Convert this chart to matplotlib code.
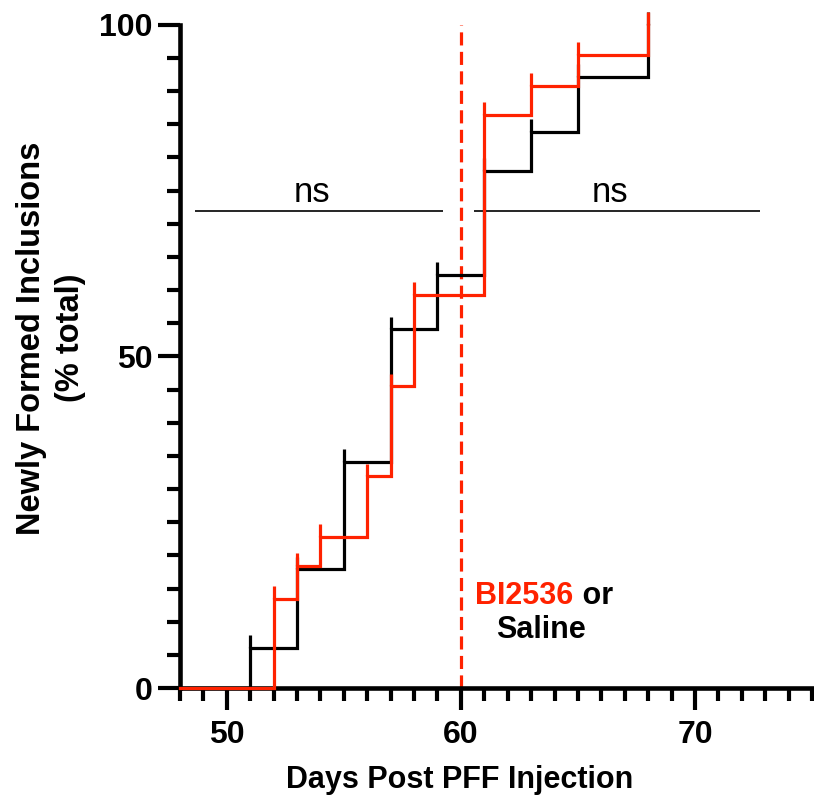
import matplotlib.pyplot as plt
from matplotlib.ticker import MultipleLocator

# ==============================================================================
# Dados (incidência cumulativa, % do total)
# ==============================================================================
dias_saline = [48, 51, 53, 55, 57, 59, 61, 63, 65, 68]
pct_saline = [0, 6.1, 17.9, 34.1, 54.1, 62.3, 78.0, 83.9, 92.2, 100]

dias_bi = [48, 52, 53, 54, 56, 57, 58, 61, 63, 65, 68]
pct_bi = [0, 13.5, 18.4, 22.8, 31.9, 45.5, 59.3, 86.4, 90.8, 95.5, 100]

dia_tratamento = 60

# barras de significância: (inicio, fim, altura, rótulo)
sig_inicio = [48.63, 60.56]
sig_fim = [59.23, 72.78]
sig_altura = 71.9
sig_rotulo = ['ns', 'ns']

VERMELHO = '#ff2200'
PRETO = '#000000'

plt.rcParams['font.family'] = ['Liberation Sans', 'DejaVu Sans']

fig = plt.figure(figsize=(8.14, 8.01), dpi=100)
ax = fig.add_axes([0.2211, 0.141, 0.7765, 0.828])

def desenhar_degraus(ax, dias, pct, cor, z):
    ax.step(dias, pct, where='post', color=cor, lw=2.3, zorder=z,
            clip_on=False, solid_joinstyle='miter')
    # pequeno prolongamento vertical acima de cada degrau
    ax.vlines(dias[1:], pct[1:], [p + 1.9 for p in pct[1:]], color=cor,
              lw=2.3, zorder=z, clip_on=False)

desenhar_degraus(ax, dias_saline, pct_saline, PRETO, 3)
desenhar_degraus(ax, dias_bi, pct_bi, VERMELHO, 4)

ax.vlines(dia_tratamento, 0, 100, color=VERMELHO, lw=2.3,
          linestyles=(0, (4.1, 2.0)), zorder=2, clip_on=False)

for ini, fim, rot in zip(sig_inicio, sig_fim, sig_rotulo):
    ax.hlines(sig_altura, ini, fim, color=PRETO, lw=1.2, zorder=2)
    ax.text((ini + fim) / 2 - 0.3, sig_altura + 0.3, rot, ha='center',
            va='bottom', fontsize=25)

t1 = ax.text(60.62, 13.9, 'BI2536', color=VERMELHO, fontsize=22,
             fontweight='bold', ha='left', va='center')
ax.annotate(' or', xy=(1, 0), xycoords=t1, ha='left', va='bottom',
            fontsize=22, fontweight='bold', color=PRETO)
ax.text(63.4, 8.8, 'Saline', color=PRETO, fontsize=22, fontweight='bold',
        ha='center', va='center')

ax.set_xlim(48, 75)
ax.set_ylim(0, 100)
ax.xaxis.set_major_locator(MultipleLocator(10))
ax.xaxis.set_minor_locator(MultipleLocator(1))
ax.yaxis.set_major_locator(MultipleLocator(50))
ax.yaxis.set_minor_locator(MultipleLocator(5))

for lado in ['top', 'right']:
    ax.spines[lado].set_visible(False)
for lado in ['left', 'bottom']:
    ax.spines[lado].set_linewidth(3.3)
    ax.spines[lado].set_capstyle('projecting')

ax.tick_params(which='major', length=16, width=3, labelsize=23)
ax.tick_params(which='minor', length=9.5, width=3)
ax.tick_params(axis='x', which='major', pad=7)
ax.tick_params(axis='y', which='major', pad=4)
for lab in ax.get_xticklabels() + ax.get_yticklabels():
    lab.set_fontweight('bold')

fig.text(51 / 814, 1 - 338 / 801, 'Newly Formed Inclusions\n(% total)',
         rotation=90, ha='center', va='center', fontsize=23.5,
         fontweight='bold', linespacing=1.35, multialignment='center')
fig.text(460 / 814, 1 - 780 / 801, 'Days Post PFF Injection', ha='center',
         va='center', fontsize=22, fontweight='bold')

fig.savefig('out.png', dpi=100)
